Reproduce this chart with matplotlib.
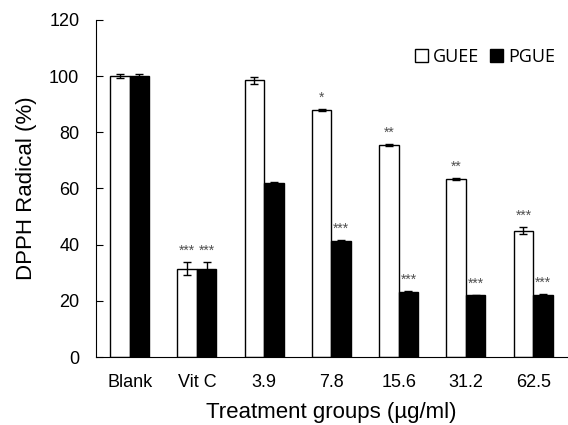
import numpy as np
import matplotlib.pyplot as plt

plt.rcParams['font.family'] = ['Liberation Sans', 'DejaVu Sans']

groups = ['Blank', 'Vit C', '3.9', '7.8', '15.6', '31.2', '62.5']
guee = [100.0, 31.5, 98.5, 88.0, 75.5, 63.5, 45.0]
guee_err = [0.6, 2.2, 1.2, 0.3, 0.5, 0.3, 1.3]
pgue = [100.0, 31.5, 62.0, 41.3, 23.3, 22.0, 22.2]
pgue_err = [0.6, 2.2, 0.4, 0.3, 0.2, 0.2, 0.4]
guee_sig = ['', '***', '', '*', '**', '**', '***']
pgue_sig = ['', '***', '', '***', '***', '***', '***']

fig = plt.figure(figsize=(5.68, 4.25), dpi=100)
ax = fig.add_axes([0.169, 0.16, 0.829, 0.793])

x = np.arange(len(groups))
w = 0.29
ax.bar(x - w / 2, guee, w, color='white', edgecolor='black', linewidth=1,
       yerr=guee_err, error_kw=dict(ecolor='black', elinewidth=1, capsize=3, capthick=1),
       label='GUEE')
ax.bar(x + w / 2, pgue, w, color='black', edgecolor='black', linewidth=1,
       yerr=pgue_err, error_kw=dict(ecolor='black', elinewidth=1, capsize=3, capthick=1),
       label='PGUE')

# significance marks above error bars
for i in range(len(groups)):
    if guee_sig[i]:
        ax.text(x[i] - w / 2, guee[i] + guee_err[i] + 1.5, guee_sig[i], ha='center',
                va='bottom', fontsize=10, color='#505050')
    if pgue_sig[i]:
        ax.text(x[i] + w / 2, pgue[i] + pgue_err[i] + 1.5, pgue_sig[i], ha='center',
                va='bottom', fontsize=10, color='#505050')

ax.set_xlim(-0.5, 6.5)
ax.set_ylim(0, 120)
ax.set_yticks(range(0, 121, 20))
ax.set_xticks(x)
ax.set_xticklabels(groups)
ax.tick_params(axis='x', length=0, labelsize=13, pad=12)
ax.tick_params(axis='y', direction='in', length=5, labelsize=13, pad=12)
ax.spines['top'].set_visible(False)
ax.spines['right'].set_visible(False)
ax.set_xlabel('Treatment groups (µg/ml)', fontsize=16, labelpad=8)
ax.set_ylabel('DPPH Radical (%)', fontsize=16, labelpad=9)

ax.legend(loc='upper right', bbox_to_anchor=(1.01, 0.965), ncol=2, frameon=False,
          prop={'family': 'Open Sans', 'size': 13}, handlelength=0.7, handleheight=0.7,
          handletextpad=0.3, columnspacing=0.6)

fig.savefig('out.png', dpi=100)
